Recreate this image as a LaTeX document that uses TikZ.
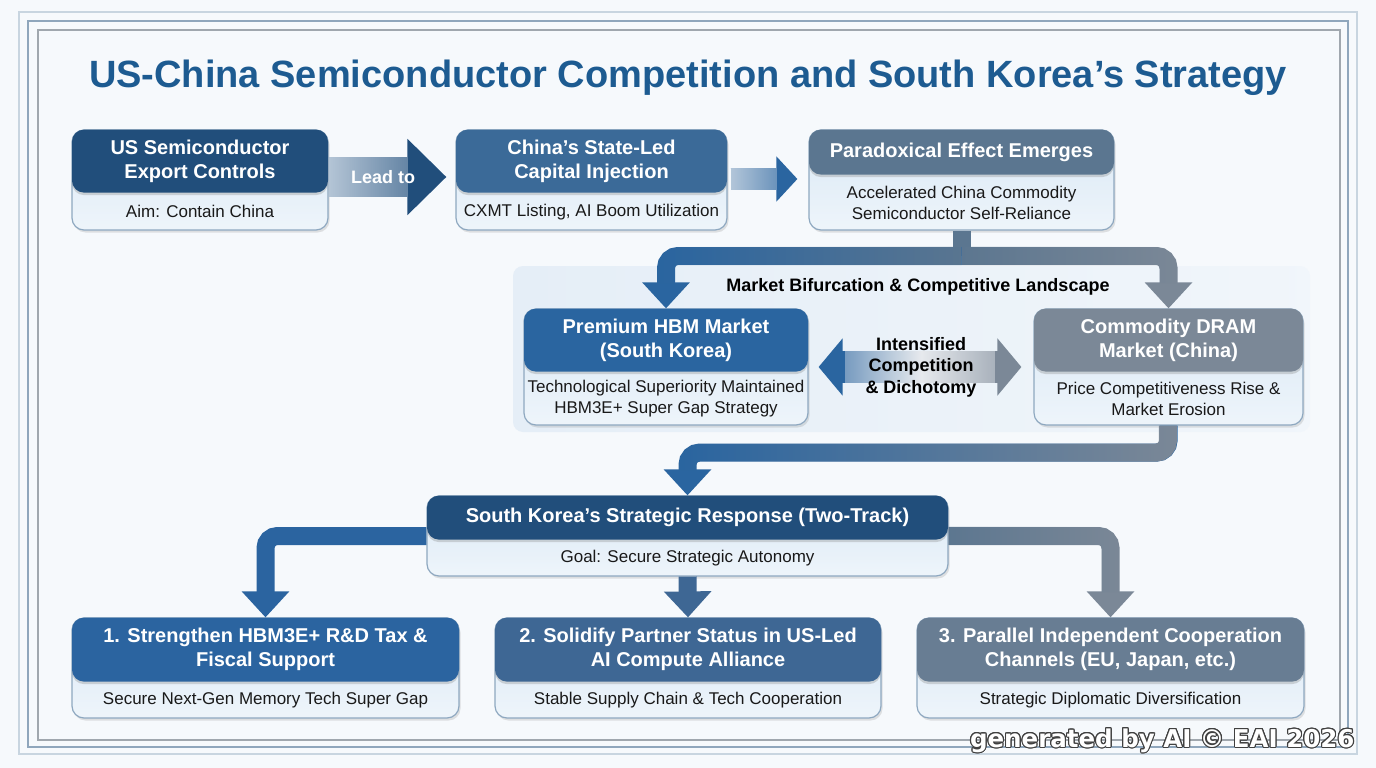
\documentclass[tikz,border=0pt]{standalone}
\usepackage{fontspec}
\setmainfont{Liberation Sans}
\newfontfamily\markfont{DejaVu Sans}
\usepackage[copies]{contour}
\usetikzlibrary{calc,arrows.meta,shadows,fadings}

\definecolor{pagefill}{HTML}{F6F9FC}
\definecolor{framelight}{HTML}{C8D5E0}
\definecolor{framemid}{HTML}{8FA6BC}
\definecolor{framedark}{HTML}{A0A7AE}
\definecolor{titleblue}{HTML}{1D5B91}
\definecolor{navy}{HTML}{214E7B}
\definecolor{steel}{HTML}{3B6A98}
\definecolor{slate}{HTML}{5B7690}
\definecolor{hbmblue}{HTML}{2A65A0}
\definecolor{dramgray}{HTML}{7B8897}
\definecolor{trackone}{HTML}{2B64A0}
\definecolor{tracktwo}{HTML}{3E6794}
\definecolor{trackthree}{HTML}{687D93}
\definecolor{subfill}{HTML}{D9E8F5}
\definecolor{subline}{HTML}{8EA8C0}
\definecolor{panelfill}{HTML}{E5EEF7}
\definecolor{arrowpale}{HTML}{C9D6E3}

\contourlength{1.1pt}

\tikzfading[name=fade in right, left color=transparent!100, right color=transparent!0]
\tikzfading[name=fade out right, left color=transparent!0, right color=transparent!100]
\tikzfading[name=left end, left color=transparent!0, right color=transparent!100, middle color=transparent!100]
\tikzfading[name=right end, left color=transparent!100, right color=transparent!0, middle color=transparent!100]

\tikzset{
  card/.style={rectangle, rounded corners=12pt, draw=subline, line width=1.2pt,
    top color=subfill, bottom color=subfill!45!white, minimum height=100pt,
    drop shadow={opacity=.22, shadow xshift=1.5pt, shadow yshift=-2.5pt}},
  cardhead/.style={rectangle, rounded corners=12pt, text=white, anchor=north,
    font=\bfseries\fontsize{20}{24}\selectfont, align=center,
    drop shadow={opacity=.3, shadow xshift=0pt, shadow yshift=-2.5pt}},
  cardtext/.style={font=\fontsize{17}{20.5}\selectfont, align=center, text=black!90},
  band/.style={line width=18pt, rounded corners=12pt, -{Triangle[width=46pt,length=26pt]}},
  bandfade/.style={line width=18pt, rounded corners=12pt, shorten >=25pt},
  trunk/.style={line width=18pt},
  panel/.style={rectangle, rounded corners=10pt, left color=panelfill, right color=panelfill!55!white},
  duelhead/.style={line width=32pt, {Triangle[width=56pt,length=24pt]}-, shorten <=10pt},
}

\begin{document}
\begin{tikzpicture}[x=1pt,y=-1pt]
  \useasboundingbox (0,0) rectangle (1376,768);
  \fill[pagefill] (0,0) rectangle (1376,768);
  \draw[framelight, line width=2pt] (19,12) rectangle (1357,754);
  \draw[framemid, line width=2pt] (28,21) rectangle (1348,747);
  \draw[framedark, line width=1.2pt] (38,30) rectangle (1340,740);

  \node[font=\bfseries\fontsize{38}{44}\selectfont, text=titleblue] (title) at (688,78)
    {US-China Semiconductor Competition and South Korea’s Strategy};

  % market panel
  \node[panel, minimum width=797pt, minimum height=166pt] (landscape) at (911.5,349) {};
  \node[font=\bfseries\fontsize{18}{21}\selectfont] (landscape-t) at (918,287)
    {Market Bifurcation \& Competitive Landscape};

  % first row
  \node[card, minimum width=256pt] (ctrl) at (200,180) {};
  \node[cardhead, fill=navy, minimum width=256pt, minimum height=63pt] (ctrl-h) at (ctrl.north)
    {US Semiconductor\\Export Controls};
  \node[cardtext] (ctrl-t) at ($(ctrl-h.south)!.5!(ctrl.south)$) {Aim: Contain China};

  \node[card, minimum width=271pt] (inject) at (591.5,180) {};
  \node[cardhead, fill=steel, minimum width=271pt, minimum height=63pt] (inject-h) at (inject.north)
    {China's State-Led\\Capital Injection};
  \node[cardtext] (inject-t) at ($(inject-h.south)!.5!(inject.south)$) {CXMT Listing, AI Boom Utilization};

  \node[card, minimum width=305pt] (para) at (961.5,180) {};
  \node[cardhead, fill=slate, minimum width=305pt, minimum height=45pt] (para-h) at (para.north)
    {Paradoxical Effect Emerges};
  \node[cardtext] (para-t) at ($(para-h.south)!.5!(para.south)$)
    {Accelerated China Commodity\\Semiconductor Self-Reliance};

  % second row
  \node[card, minimum width=284pt, minimum height=116pt] (prem) at (666,367) {};
  \node[cardhead, fill=hbmblue, minimum width=284pt, minimum height=63pt] (prem-h) at (prem.north)
    {Premium HBM Market\\(South Korea)};
  \node[cardtext] (prem-t) at ($(prem-h.south)!.5!(prem.south)$)
    {Technological Superiority Maintained\\HBM3E+ Super Gap Strategy};

  \node[card, minimum width=269pt, minimum height=116pt] (dram) at (1168.5,367) {};
  \node[cardhead, fill=dramgray, minimum width=269pt, minimum height=63pt] (dram-h) at (dram.north)
    {Commodity DRAM\\Market (China)};
  \node[cardtext] (dram-t) at ($(dram-h.south)!.5!(dram.south)$)
    {Price Competitiveness Rise \&\\Market Erosion};

  % response
  \node[card, minimum width=521pt, minimum height=80pt] (resp) at (687.5,536) {};
  \node[cardhead, fill=navy, minimum width=521pt, minimum height=44pt] (resp-h) at (resp.north)
    {South Korea's Strategic Response (Two-Track)};
  \node[cardtext] (resp-t) at ($(resp-h.south)!.5!(resp.south)$) {Goal: Secure Strategic Autonomy};

  % tracks
  \node[card, minimum width=387pt] (one) at (265.5,668) {};
  \node[cardhead, fill=trackone, minimum width=387pt, minimum height=64pt] (one-h) at (one.north)
    {1. Strengthen HBM3E+ R\&D Tax \&\\Fiscal Support};
  \node[cardtext] (one-t) at ($(one-h.south)!.5!(one.south)$) {Secure Next-Gen Memory Tech Super Gap};

  \node[card, minimum width=386pt] (two) at (688,668) {};
  \node[cardhead, fill=tracktwo, minimum width=386pt, minimum height=64pt] (two-h) at (two.north)
    {2. Solidify Partner Status in US-Led\\AI Compute Alliance};
  \node[cardtext] (two-t) at ($(two-h.south)!.5!(two.south)$) {Stable Supply Chain \& Tech Cooperation};

  \node[card, minimum width=387pt] (three) at (1110.5,668) {};
  \node[cardhead, fill=trackthree, minimum width=387pt, minimum height=64pt] (three-h) at (three.north)
    {3. Parallel Independent Cooperation\\Channels (EU, Japan, etc.)};
  \node[cardtext] (three-t) at ($(three-h.south)!.5!(three.south)$) {Strategic Diplomatic Diversification};

  % row one arrows
  \draw[navy, line width=40pt, -{Triangle[width=74pt,length=39pt]}, shorten >=9pt]
    ($(ctrl.east)+(0,-3)$) -- ($(inject.west)+(0,-3)$);
  \draw[arrowpale, line width=40pt, shorten >=47pt, path fading=fade out right]
    ($(ctrl.east)+(0,-3)$) -- ($(inject.west)+(0,-3)$);
  \node[text=white, font=\bfseries\fontsize{18}{21}\selectfont] (leadto) at ($(ctrl.east)!.43!(inject.west)+(0,-3)$) {Lead to};

  \draw[hbmblue, line width=22pt, -{Triangle[width=44pt,length=21pt]}, shorten <=3pt, shorten >=11pt]
    ($(inject.east)+(0,-1)$) -- ($(para.west)+(0,-1)$);
  \draw[arrowpale, line width=22pt, shorten <=3pt, shorten >=31pt, path fading=fade out right]
    ($(inject.east)+(0,-1)$) -- ($(para.west)+(0,-1)$);

  % split into the two markets
  \coordinate (fork) at (961.5,256);
  \draw[trunk, slate] (para.south) -- (fork);
  \draw[band, dramgray] (fork) -| (dram.north);
  \draw[bandfade, slate, path fading=fade out right] (fork) -| (dram.north);
  \draw[band, hbmblue] (fork) -| (prem.north);
  \draw[bandfade, slate, path fading=fade in right] (fork) -| (prem.north);

  % competition arrow
  \draw[white!85!slate, line width=32pt, shorten <=33pt, shorten >=35pt] (prem.east) -- (dram.west);
  \draw[hbmblue, line width=32pt, shorten <=33pt, shorten >=35pt, path fading=left end] (prem.east) -- (dram.west);
  \draw[dramgray, line width=32pt, shorten <=33pt, shorten >=35pt, path fading=right end] (prem.east) -- (dram.west);
  \draw[duelhead, hbmblue] (prem.east) -- ++(36,0);
  \draw[duelhead, dramgray, shorten <=12pt] (dram.west) -- ++(-38,0);
  \node[font=\bfseries\fontsize{18}{21.5}\selectfont, align=center] (duel) at ($(prem.east)!.5!(dram.west)$)
    {Intensified\\Competition\\\& Dichotomy};

  % back to korea
  \draw[band, hbmblue] (dram.south) -- ++(0,27) -| (resp.north);
  \draw[bandfade, dramgray, path fading=fade in right] (dram.south) -- ++(0,27) -| (resp.north);

  % three tracks
  \draw[band, trackone] (resp.west) -| (one.north);
  \draw[band, tracktwo] (resp.south) -- (two.north);
  \draw[band, dramgray] (resp.east) -| (three.north);
  \draw[bandfade, slate, path fading=fade out right] (resp.east) -| (three.north);

  \node[anchor=east, text=white, font=\markfont\bfseries\fontsize{24.5}{28}\selectfont] (stamp) at (1358,741)
    {\contour{black!75}{generated by AI © EAI 2026}};
\end{tikzpicture}
\end{document}
